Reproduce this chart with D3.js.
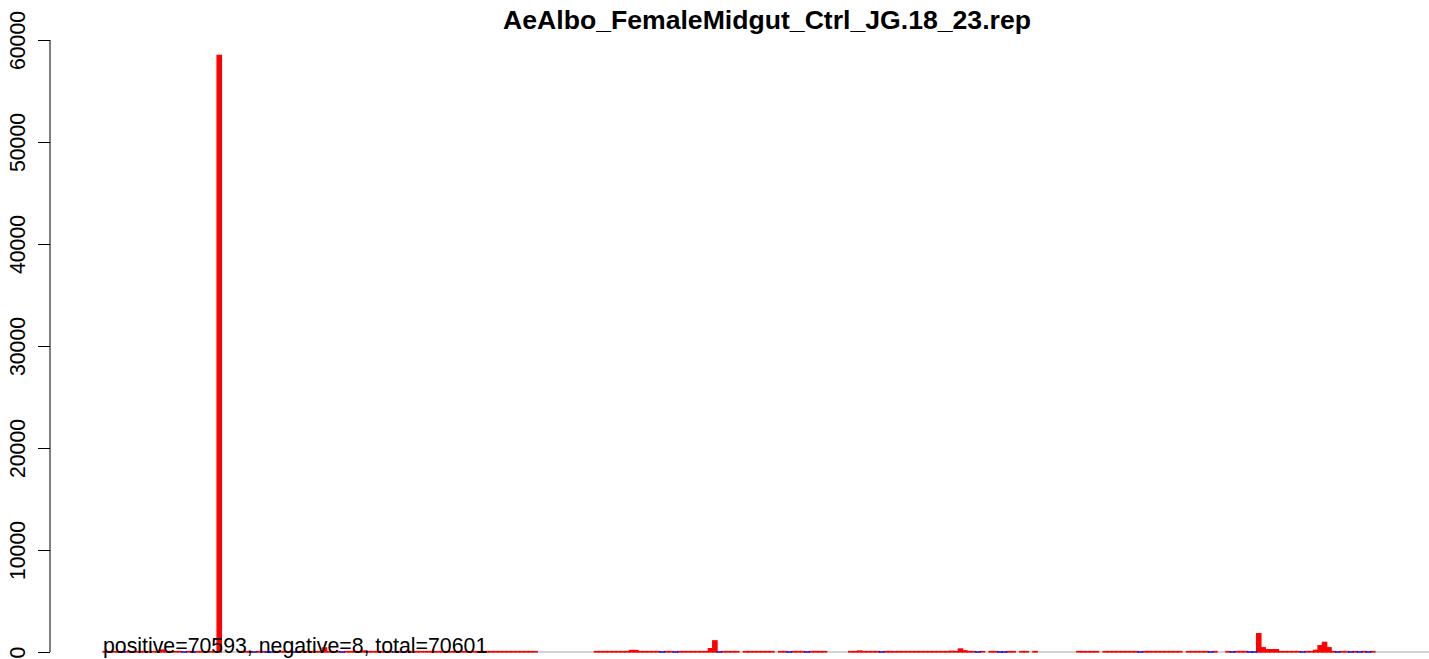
<!DOCTYPE html>
<html lang="en">
<head>
    <meta charset="UTF-8">
    <title>AeAlbo_FemaleMidgut_Ctrl_JG.18_23.rep</title>
    <script src="https://d3js.org/d3.v7.min.js"></script>
    <style>
        body { margin: 0; background: white; font-family: "Liberation Sans", Arial, sans-serif; }
        svg { display: block; }
    </style>
</head>
<body>
    <svg width="1429" height="659"></svg>

    <script>
        const title = "AeAlbo_FemaleMidgut_Ctrl_JG.18_23.rep";
        const summary = "positive=70593, negative=8, total=70601";
        const yTicks = [0, 10000, 20000, 30000, 40000, 50000, 60000];

        // positive strand counts per bin (red)
        const positive = [
            50, 50, 50, 50, 0, 50, 50, 50, 50, 50,
            50, 50, 50, 200, 50, 50, 50, 50, 0, 50,
            0, 50, 50, 50, 50, 50, 58500, 0, 0, 0,
            0, 50, 50, 50, 0, 50, 50, 0, 0, 50,
            50, 50, 50, 0, 50, 50, 50, 50, 50, 50,
            400, 50, 50, 50, 0, 50, 50, 50, 50, 100,
            50, 50, 50, 50, 50, 50, 0, 50, 0, 50,
            50, 50, 50, 50, 50, 50, 50, 50, 50, 50,
            50, 50, 50, 50, 50, 50, 50, 50, 50, 50,
            50, 50, 50, 50, 50, 50, 50, 50, 50, 0,
            0, 0, 0, 0, 0, 0, 0, 0, 0, 0,
            0, 0, 50, 50, 50, 50, 50, 50, 50, 50,
            150, 150, 50, 50, 50, 50, 50, 0, 50, 50,
            0, 50, 50, 50, 50, 50, 50, 50, 330, 1100,
            0, 50, 50, 50, 50, 0, 50, 50, 50, 50,
            50, 50, 50, 0, 50, 50, 0, 50, 50, 50,
            0, 50, 50, 50, 50, 0, 0, 0, 0, 0,
            50, 50, 100, 50, 50, 50, 50, 0, 50, 50,
            50, 50, 50, 50, 50, 50, 50, 50, 50, 50,
            50, 50, 50, 80, 50, 300, 120, 50, 50, 0,
            50, 0, 50, 50, 0, 0, 50, 50, 0, 50,
            50, 0, 50, 0, 0, 0, 0, 0, 0, 0,
            0, 0, 50, 50, 50, 50, 50, 0, 50, 50,
            50, 50, 50, 50, 50, 50, 0, 50, 50, 50,
            50, 50, 50, 50, 50, 50, 0, 50, 50, 50,
            50, 50, 0, 50, 0, 0, 50, 0, 50, 50,
            50, 0, 0, 1800, 420, 230, 230, 230, 50, 50,
            50, 50, 50, 0, 50, 50, 170, 620, 950, 420,
            50, 0, 50, 50, 0, 50, 0, 50, 0, 50
        ];

        // negative strand counts per bin (blue)
        const negative = [
            0, 0, 0, 0, 1, 0, 0, 0, 0, 0,
            0, 0, 0, 0, 0, 0, 0, 0, 1, 0,
            1, 0, 0, 0, 0, 0, 0, 0, 0, 0,
            0, 0, 0, 0, 1, 0, 0, 1, 1, 0,
            0, 0, 0, 1, 0, 0, 0, 0, 0, 0,
            0, 0, 0, 0, 1, 0, 0, 0, 0, 0,
            0, 0, 0, 0, 0, 0, 1, 0, 1, 0,
            0, 0, 0, 0, 0, 0, 0, 0, 0, 0,
            0, 0, 0, 0, 0, 0, 0, 0, 0, 0,
            0, 0, 0, 0, 0, 0, 0, 0, 0, 0,
            0, 0, 0, 0, 0, 0, 0, 0, 0, 0,
            0, 0, 0, 0, 0, 0, 0, 0, 0, 0,
            0, 0, 0, 0, 0, 0, 0, 1, 0, 0,
            1, 0, 0, 0, 0, 0, 0, 0, 0, 0,
            1, 0, 0, 0, 0, 0, 0, 0, 0, 0,
            0, 0, 0, 0, 0, 0, 1, 0, 0, 0,
            1, 0, 0, 0, 0, 0, 0, 0, 0, 0,
            0, 0, 0, 0, 0, 0, 0, 1, 0, 0,
            0, 0, 0, 0, 0, 0, 0, 0, 0, 0,
            0, 0, 0, 0, 0, 0, 0, 0, 0, 1,
            0, 0, 0, 0, 1, 1, 0, 0, 0, 0,
            0, 0, 0, 0, 0, 0, 0, 0, 0, 0,
            0, 0, 0, 0, 0, 0, 0, 0, 0, 0,
            0, 0, 0, 0, 0, 0, 1, 0, 0, 0,
            0, 0, 0, 0, 0, 0, 0, 0, 0, 0,
            0, 0, 1, 0, 0, 0, 0, 1, 0, 0,
            0, 1, 1, 0, 0, 0, 0, 0, 0, 0,
            0, 0, 0, 1, 0, 0, 0, 0, 0, 0,
            0, 1, 0, 0, 1, 0, 1, 0, 1, 0
        ];

        const width = 1429, height = 659;
        const svg = d3.select("svg");
        const fontSize = 21.3;

        const xScale = d3.scaleBand()
            .domain(d3.range(positive.length))
            .range([103, 1375])
            .padding(0);

        const yScale = d3.scaleLinear()
            .domain([0, 60000])
            .range([652, 40]);

        // zero line
        svg.append("line")
            .attr("x1", 103).attr("x2", width)
            .attr("y1", yScale(0)).attr("y2", yScale(0))
            .attr("stroke", "#a8a8a8")
            .attr("stroke-width", 1.2);

        const bins = positive.map((v, i) => ({i: i, pos: v, neg: negative[i]}));

        svg.selectAll("rect.pos")
            .data(bins.filter(d => d.pos > 0))
            .enter()
            .append("rect")
            .attr("class", "pos")
            .attr("x", d => xScale(d.i))
            .attr("y", d => yScale(d.pos))
            .attr("width", xScale.bandwidth())
            .attr("height", d => yScale(0) - yScale(d.pos))
            .attr("fill", "#ff0000")
            .attr("stroke", "#ff0000")
            .attr("stroke-width", 1.2);

        svg.selectAll("rect.neg")
            .data(bins.filter(d => d.neg > 0))
            .enter()
            .append("rect")
            .attr("class", "neg")
            .attr("x", d => xScale(d.i))
            .attr("y", yScale(0))
            .attr("width", xScale.bandwidth())
            .attr("height", d => yScale(-d.neg) - yScale(0))
            .attr("fill", "#0000ff")
            .attr("stroke", "#0000ff")
            .attr("stroke-width", 1.4);

        // Y Axis (R style, rotated labels)
        const yAxis = svg.append("g")
            .attr("transform", "translate(50,0)")
            .call(d3.axisLeft(yScale).tickValues(yTicks).tickSize(12).tickPadding(0).tickFormat(d3.format("d")));
        yAxis.select(".domain")
            .attr("d", `M0,${yScale(0)}V${yScale(60000)}`)
            .attr("stroke", "black");
        yAxis.selectAll(".tick line").attr("stroke", "black");
        yAxis.selectAll(".tick text")
            .attr("x", null).attr("dy", null)
            .attr("transform", "translate(-25,0) rotate(-90)")
            .attr("text-anchor", "middle")
            .attr("fill", "black")
            .style("font-family", "Liberation Sans, Arial, sans-serif")
            .style("font-size", fontSize + "px");

        // title
        svg.append("text")
            .attr("x", 767)
            .attr("y", 29)
            .attr("text-anchor", "middle")
            .style("font-weight", "bold")
            .style("font-size", (fontSize * 1.25) + "px")
            .text(title);

        // summary text
        svg.append("text")
            .attr("x", 103)
            .attr("y", 653)
            .style("font-size", fontSize + "px")
            .text(summary);
    </script>
</body>
</html>
